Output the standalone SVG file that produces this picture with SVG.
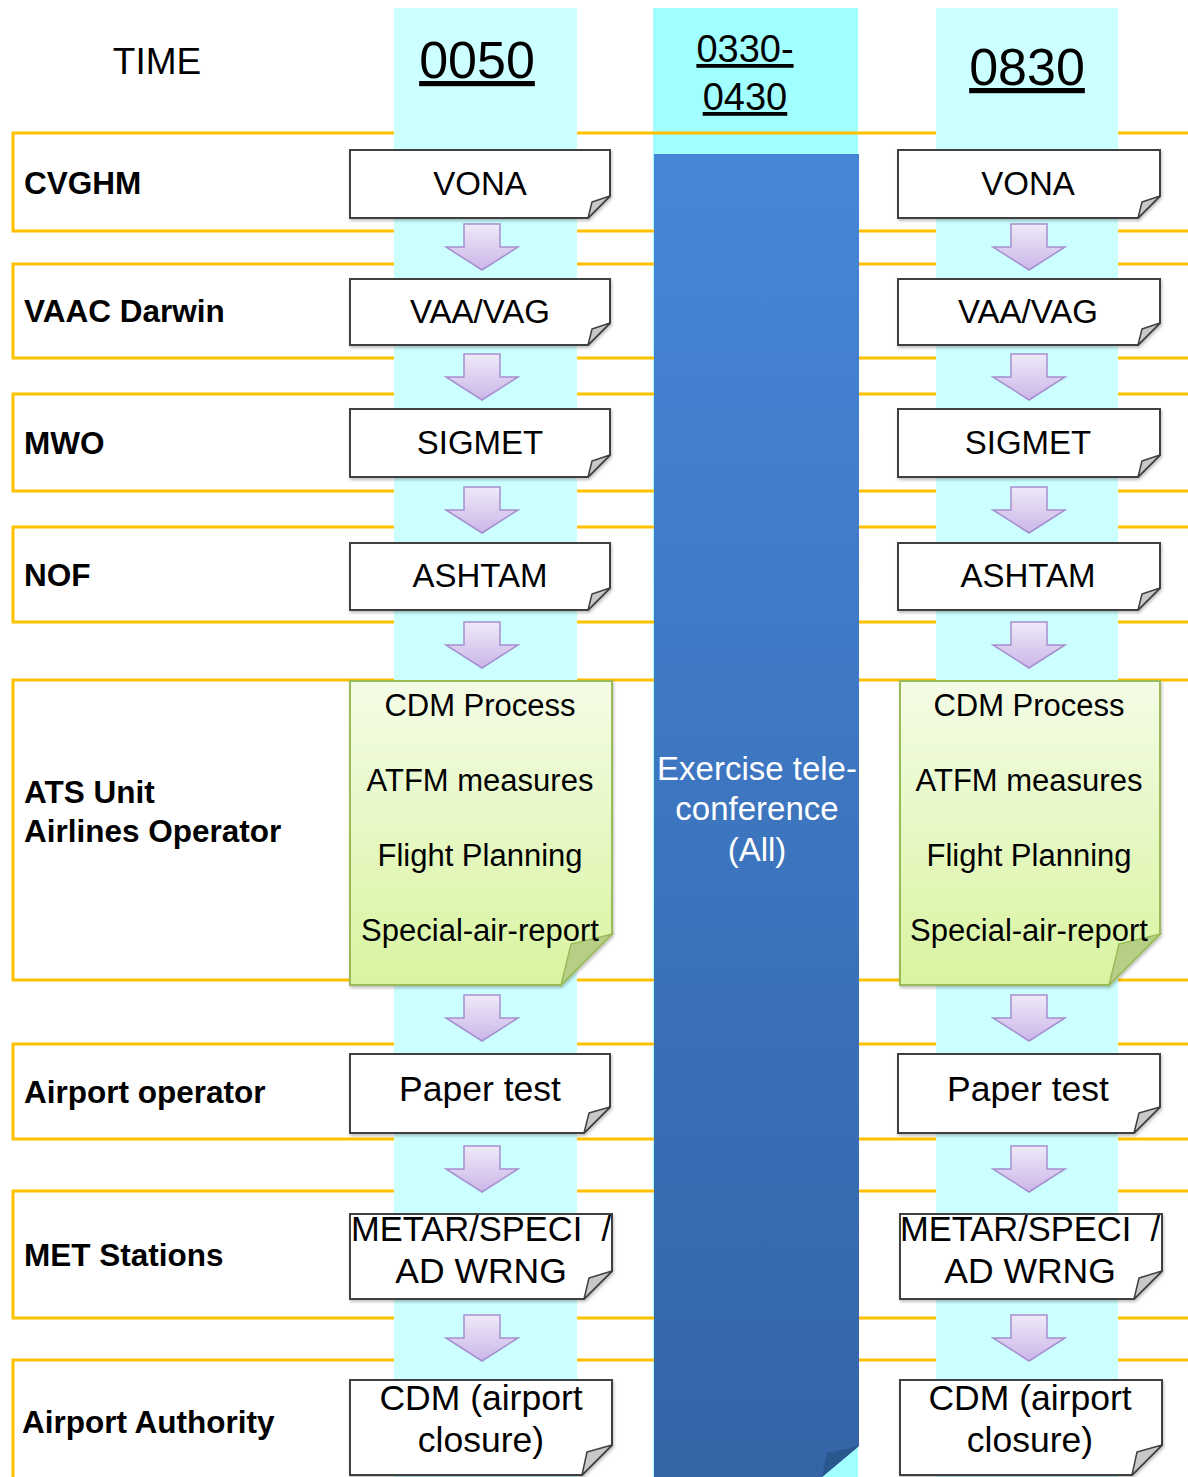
<svg xmlns="http://www.w3.org/2000/svg" xmlns:xlink="http://www.w3.org/1999/xlink" width="1188" height="1477" viewBox="0 0 1188 1477">
<defs>
<style>
text{font-family:"Liberation Sans",Arial,sans-serif;fill:#000}
.hdr{font-size:37px;text-anchor:middle}
.big{font-size:52px;text-anchor:middle;text-decoration:underline}
.mid{font-size:38px;text-anchor:middle;text-decoration:underline}
.lbl{font-size:31.5px;font-weight:bold}
.box{fill:#fff;stroke:#404040;stroke-width:2;filter:url(#sh)}
.fold{fill:#c8c8c8;stroke:#404040;stroke-width:1.5;stroke-linejoin:round}
.gbox{fill:url(#gg);stroke:#9bbb59;stroke-width:2;filter:url(#sh)}
.gfold{fill:#b5cf86;stroke:#9bbb59;stroke-width:1.5}
.bt{font-size:33px;text-anchor:middle}
.bt2{font-size:35.5px;text-anchor:middle}
.bt3{font-size:34.5px;text-anchor:middle}
.gt{font-size:31px;text-anchor:middle}
.wt{font-size:33px;text-anchor:middle;fill:#fff}
.row{fill:none;stroke:#ffc000;stroke-width:3}
.arr{fill:url(#ag);stroke:#a68fcf;stroke-width:1.5;stroke-linejoin:miter}
</style>
<linearGradient id="gg" x1="0" y1="0" x2="0" y2="1">
<stop offset="0" stop-color="#f4fce6"/>
<stop offset="1" stop-color="#d8f4a0"/>
</linearGradient>
<linearGradient id="bg" x1="0" y1="0" x2="0" y2="1">
<stop offset="0" stop-color="#4686d8"/>
<stop offset="1" stop-color="#3464a6"/>
</linearGradient>
<linearGradient id="ag" x1="0" y1="0" x2="0" y2="1">
<stop offset="0" stop-color="#efe9f8"/>
<stop offset="1" stop-color="#cbb6e8"/>
</linearGradient>
<filter id="sh" x="-5%" y="-5%" width="112%" height="115%">
<feDropShadow dx="1" dy="2" stdDeviation="1.5" flood-color="#000" flood-opacity="0.25"/>
</filter>
<path id="arrow" class="arr" d="M -18,0 H 18 V 23 H 36 L 0,46 L -36,23 H -18 Z"/>
</defs>

<!-- background -->
<rect width="1188" height="1477" fill="#fff"/>

<!-- middle column (behind rows) -->
<rect id="col-mid" x="653" y="8" width="205" height="1469" fill="#a2ffff"/>

<!-- rows -->
<g id="rows">
<rect class="row" x="13" y="133" width="1200" height="98"/>
<rect class="row" x="13" y="264" width="1200" height="94"/>
<rect class="row" x="13" y="394" width="1200" height="97"/>
<rect class="row" x="13" y="527" width="1200" height="95"/>
<rect class="row" x="13" y="680" width="1200" height="300"/>
<rect class="row" x="13" y="1044" width="1200" height="95"/>
<rect class="row" x="13" y="1191" width="1200" height="127"/>
<rect class="row" x="13" y="1360" width="1200" height="140"/>
</g>

<!-- time columns -->
<rect id="col-0050" x="394" y="8" width="183" height="1469" fill="#ccffff"/>
<rect id="col-0830" x="936" y="8" width="182" height="1469" fill="#ccffff"/>

<!-- headers -->
<g id="headers">
<text class="hdr" x="157" y="74">TIME</text>
<text class="big" x="477" y="78">0050</text>
<text class="mid" x="745" y="62">0330-</text>
<text class="mid" x="745" y="110">0430</text>
<text class="big" x="1027" y="85">0830</text>
</g>

<!-- row labels -->
<g id="labels">
<text class="lbl" x="24" y="194">CVGHM</text>
<text class="lbl" x="24" y="322">VAAC Darwin</text>
<text class="lbl" x="24" y="454">MWO</text>
<text class="lbl" x="24" y="586">NOF</text>
<text class="lbl" x="24" y="803">ATS Unit</text>
<text class="lbl" x="24" y="842">Airlines Operator</text>
<text class="lbl" x="24" y="1103">Airport operator</text>
<text class="lbl" x="24" y="1266">MET Stations</text>
<text class="lbl" x="22" y="1433">Airport Authority</text>
</g>

<!-- exercise teleconference -->
<g id="teleconf">
<path d="M 654,154 H 859 V 1446 L 822,1477 H 654 Z" fill="url(#bg)"/>
<path d="M 822,1477 L 827,1453 L 859,1446 Z" fill="#2b578f"/>
<text class="wt" x="757" y="780">Exercise tele-</text>
<text class="wt" x="757" y="820">conference</text>
<text class="wt" x="757" y="861">(All)</text>
</g>

<!-- connectors -->
<g id="connectors">
<use href="#arrow" x="482" y="224"/>
<use href="#arrow" x="482" y="354"/>
<use href="#arrow" x="482" y="487"/>
<use href="#arrow" x="482" y="622"/>
<use href="#arrow" x="482" y="995"/>
<use href="#arrow" x="482" y="1146"/>
<use href="#arrow" x="482" y="1315"/>
<use href="#arrow" x="1029" y="224"/>
<use href="#arrow" x="1029" y="354"/>
<use href="#arrow" x="1029" y="487"/>
<use href="#arrow" x="1029" y="622"/>
<use href="#arrow" x="1029" y="995"/>
<use href="#arrow" x="1029" y="1146"/>
<use href="#arrow" x="1029" y="1315"/>
</g>

<!-- 0050 column nodes -->
<g id="vona-0050">
<path class="box" d="M 350,150 H 610 V 196 L 588,218 H 350 Z"/>
<path class="fold" d="M 588,218 L 592,202 L 610,196 Z"/>
<text class="bt" x="480" y="195">VONA</text>
</g>
<g id="vaa-0050">
<path class="box" d="M 350,279 H 610 V 323 L 588,345 H 350 Z"/>
<path class="fold" d="M 588,345 L 592,329 L 610,323 Z"/>
<text class="bt" x="480" y="323">VAA/VAG</text>
</g>
<g id="sigmet-0050">
<path class="box" d="M 350,409 H 610 V 455 L 588,477 H 350 Z"/>
<path class="fold" d="M 588,477 L 592,461 L 610,455 Z"/>
<text class="bt" x="480" y="454">SIGMET</text>
</g>
<g id="ashtam-0050">
<path class="box" d="M 350,543 H 610 V 588 L 588,610 H 350 Z"/>
<path class="fold" d="M 588,610 L 592,594 L 610,588 Z"/>
<text class="bt" x="480" y="587">ASHTAM</text>
</g>
<g id="ats-0050">
<path class="gbox" d="M 350,681 H 612 V 934 L 561,985 H 350 Z"/>
<path class="gfold" d="M 561,985 L 571,944 L 612,934 Z"/>
<text class="gt" x="480" y="716">CDM Process</text>
<text class="gt" x="480" y="791">ATFM measures</text>
<text class="gt" x="480" y="866">Flight Planning</text>
<text class="gt" x="480" y="941">Special-air-report</text>
</g>
<g id="paper-0050">
<path class="box" d="M 350,1054 H 610 V 1107 L 584,1133 H 350 Z"/>
<path class="fold" d="M 584,1133 L 589,1113 L 610,1107 Z"/>
<text class="bt2" x="480" y="1101">Paper test</text>
</g>
<g id="metar-0050">
<path class="box" d="M 350,1214 H 612 V 1271 L 584,1299 H 350 Z"/>
<path class="fold" d="M 584,1299 L 589,1278 L 612,1271 Z"/>
<text class="bt3" x="481" y="1241" xml:space="preserve">METAR/SPECI  /</text>
<text class="bt2" x="481" y="1283">AD WRNG</text>
</g>
<g id="cdm-0050">
<path class="box" d="M 350,1380 H 612 V 1445 L 582,1475 H 350 Z"/>
<path class="fold" d="M 582,1475 L 587,1452 L 612,1445 Z"/>
<text class="bt2" x="481" y="1410">CDM (airport</text>
<text class="bt2" x="481" y="1452">closure)</text>
</g>

<!-- 0830 column nodes -->
<g id="vona-0830">
<path class="box" d="M 898,150 H 1160 V 196 L 1138,218 H 898 Z"/>
<path class="fold" d="M 1138,218 L 1142,202 L 1160,196 Z"/>
<text class="bt" x="1028" y="195">VONA</text>
</g>
<g id="vaa-0830">
<path class="box" d="M 898,279 H 1160 V 323 L 1138,345 H 898 Z"/>
<path class="fold" d="M 1138,345 L 1142,329 L 1160,323 Z"/>
<text class="bt" x="1028" y="323">VAA/VAG</text>
</g>
<g id="sigmet-0830">
<path class="box" d="M 898,409 H 1160 V 455 L 1138,477 H 898 Z"/>
<path class="fold" d="M 1138,477 L 1142,461 L 1160,455 Z"/>
<text class="bt" x="1028" y="454">SIGMET</text>
</g>
<g id="ashtam-0830">
<path class="box" d="M 898,543 H 1160 V 588 L 1138,610 H 898 Z"/>
<path class="fold" d="M 1138,610 L 1142,594 L 1160,588 Z"/>
<text class="bt" x="1028" y="587">ASHTAM</text>
</g>
<g id="ats-0830">
<path class="gbox" d="M 900,681 H 1160 V 934 L 1109,985 H 900 Z"/>
<path class="gfold" d="M 1109,985 L 1119,944 L 1160,934 Z"/>
<text class="gt" x="1029" y="716">CDM Process</text>
<text class="gt" x="1029" y="791">ATFM measures</text>
<text class="gt" x="1029" y="866">Flight Planning</text>
<text class="gt" x="1029" y="941">Special-air-report</text>
</g>
<g id="paper-0830">
<path class="box" d="M 898,1054 H 1160 V 1107 L 1134,1133 H 898 Z"/>
<path class="fold" d="M 1134,1133 L 1139,1113 L 1160,1107 Z"/>
<text class="bt2" x="1028" y="1101">Paper test</text>
</g>
<g id="metar-0830">
<path class="box" d="M 900,1214 H 1162 V 1271 L 1134,1299 H 900 Z"/>
<path class="fold" d="M 1134,1299 L 1139,1278 L 1162,1271 Z"/>
<text class="bt3" x="1030" y="1241" xml:space="preserve">METAR/SPECI  /</text>
<text class="bt2" x="1030" y="1283">AD WRNG</text>
</g>
<g id="cdm-0830">
<path class="box" d="M 900,1380 H 1162 V 1445 L 1132,1475 H 900 Z"/>
<path class="fold" d="M 1132,1475 L 1137,1452 L 1162,1445 Z"/>
<text class="bt2" x="1030" y="1410">CDM (airport</text>
<text class="bt2" x="1030" y="1452">closure)</text>
</g>
</svg>
